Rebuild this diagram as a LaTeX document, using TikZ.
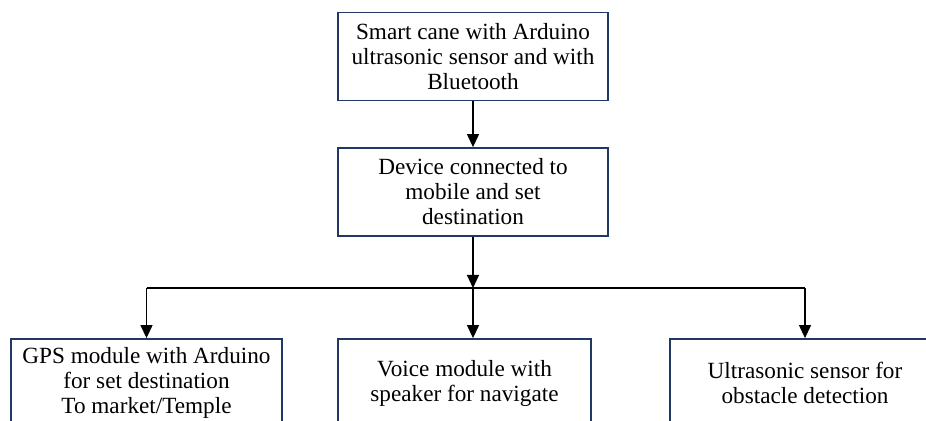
\documentclass[tikz,border=0pt]{standalone}
\usepackage{fontspec}
\setmainfont{Liberation Serif}
\newfontfamily\boxfont{Liberation Serif}
\usetikzlibrary{arrows.meta}
\definecolor{boxline}{HTML}{1F3864}

\begin{document}
\begin{tikzpicture}[x=0.5pt,y=-0.5pt,
    stagebox/.style={draw=boxline,line width=0.9pt,fill=white,align=center,
        minimum height=44pt,inner sep=2pt,font=\boxfont\fontsize{11.6}{12.5}\selectfont},
    flow/.style={-{Triangle[width=6pt,length=6.5pt]},line width=0.6pt,black}]
    \useasboundingbox (0,0) rectangle (926,421);
    \clip (0,0) rectangle (926,421);
    \node[stagebox,minimum width=135pt] (cane) at (473,56.5) {Smart cane with Arduino\\ultrasonic sensor and with\\Bluetooth};
    \node[stagebox,minimum width=135pt] (device) at (473,192) {Device connected to\\mobile and set\\destination};
    \node[stagebox,minimum width=135.5pt] (gps) at (146.5,383) {GPS module with Arduino\\for set destination\\To market/Temple};
    \node[stagebox,minimum width=126.5pt] (voice) at (464.5,383) {Voice module with\\speaker for navigate};
    \node[stagebox,minimum width=135pt] (ultra) at (805,383) {Ultrasonic sensor for\\obstacle detection};
    \coordinate (split) at (473,288);
    \draw[flow] (cane) -- (device);
    \draw[flow] (device) -- (split);
    \draw[line width=0.6pt] (gps.north |- split) -- (ultra.north |- split);
    \draw[flow] (gps.north |- split) -- (gps.north);
    \draw[flow] (split) -- (split |- voice.north);
    \draw[flow] (ultra.north |- split) -- (ultra.north);
\end{tikzpicture}
\end{document}
